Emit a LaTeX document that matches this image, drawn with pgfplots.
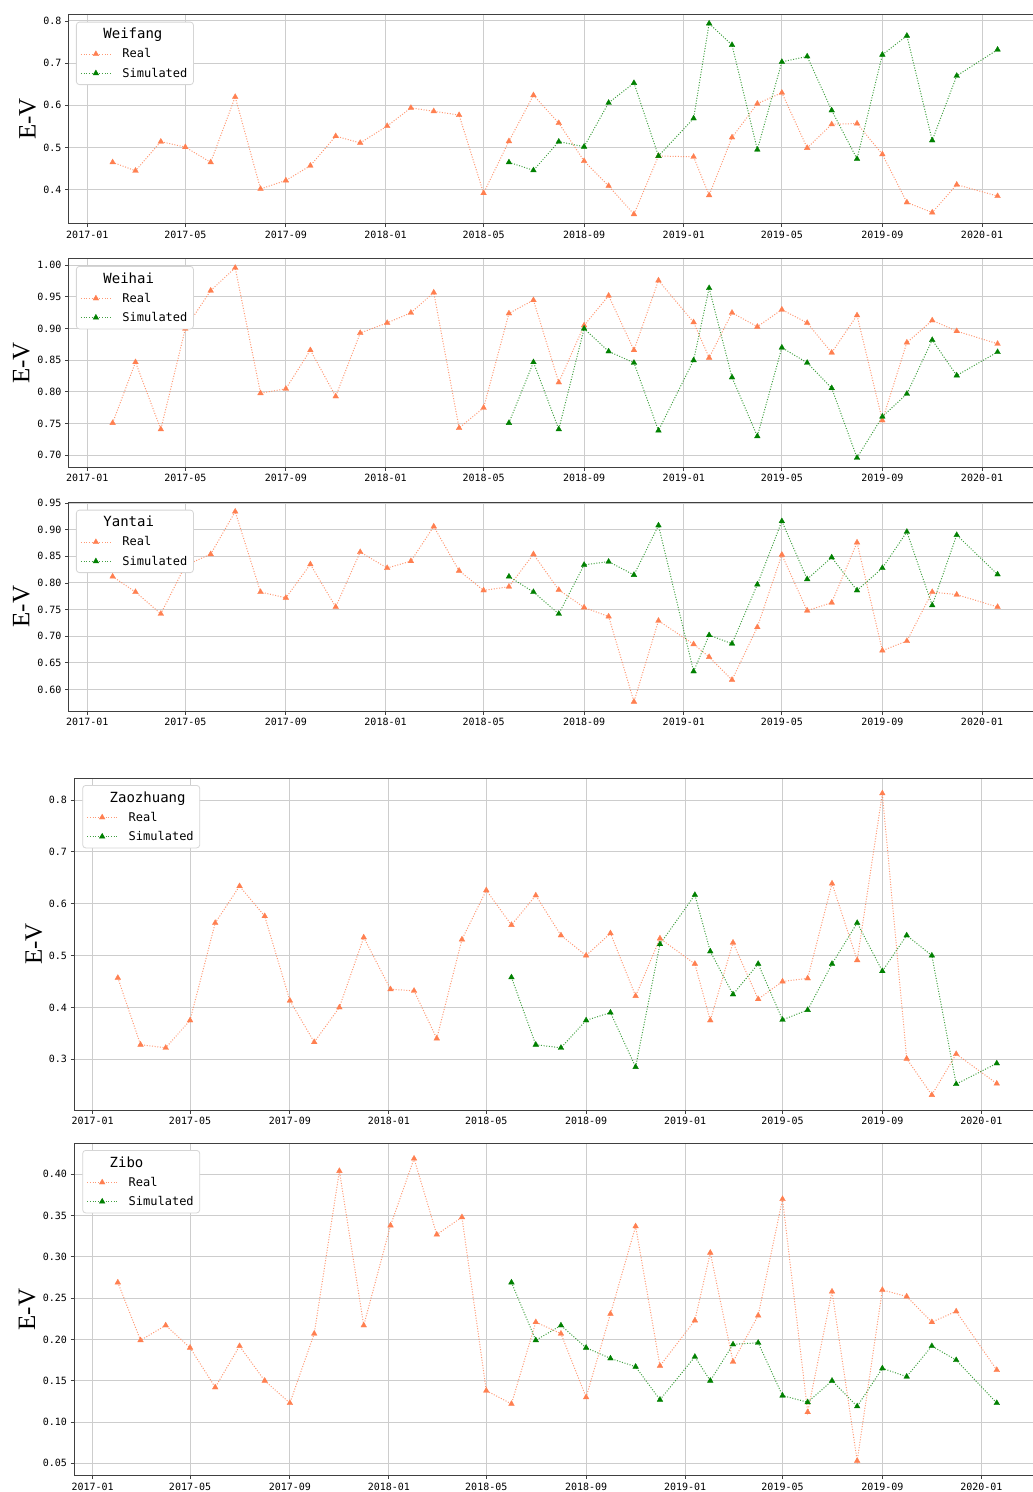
\documentclass[border=0pt]{standalone}
\usepackage{fontspec}
\usepackage{pgfplots}
\usepackage{pgfplotstable}
\pgfplotsset{compat=1.18}
\newfontfamily\monof{DejaVu Sans Mono}
\newfontfamily\seriff{Liberation Serif}
\definecolor{realc}{HTML}{FF7F50}
\definecolor{simc}{HTML}{008000}
\definecolor{gridc}{HTML}{CDCDCD}
\definecolor{spinec}{HTML}{404040}
\definecolor{legc}{HTML}{D5D5D5}

\pgfplotstableread{
d r s
31 0.465 nan
59 0.445 nan
90 0.514 nan
120 0.501 nan
151 0.465 nan
181 0.620 nan
212 0.402 nan
243 0.422 nan
273 0.457 nan
304 0.527 nan
334 0.511 nan
367 0.551 nan
396 0.594 nan
424 0.586 nan
455 0.577 nan
485 0.392 nan
516 0.515 0.465
546 0.624 0.446
577 0.558 0.514
608 0.468 0.502
638 0.409 0.606
669 0.342 0.653
699 0.480 0.480
742 0.478 0.569
761 0.387 0.794
789 0.524 0.743
820 0.604 0.495
850 0.630 0.703
881 0.499 0.716
911 0.555 0.588
942 0.557 0.473
973 0.484 0.720
1003 0.370 0.765
1034 0.346 0.517
1064 0.412 0.670
1114 0.385 0.732
}\wf

\pgfplotstableread{
d r s
31 0.751 nan
59 0.847 nan
90 0.741 nan
120 0.900 nan
151 0.960 nan
181 0.996 nan
212 0.798 nan
243 0.805 nan
273 0.866 nan
304 0.793 nan
334 0.893 nan
367 0.909 nan
396 0.925 nan
424 0.957 nan
455 0.743 nan
485 0.775 nan
516 0.924 0.751
546 0.945 0.847
577 0.815 0.741
608 0.905 0.900
638 0.952 0.864
669 0.866 0.846
699 0.976 0.739
742 0.910 0.850
761 0.854 0.964
789 0.925 0.823
820 0.903 0.730
850 0.930 0.870
881 0.909 0.846
911 0.862 0.806
942 0.921 0.696
973 0.755 0.761
1003 0.878 0.797
1034 0.913 0.882
1064 0.896 0.826
1114 0.876 0.863
}\wh

\pgfplotstableread{
d r s
31 0.812 nan
59 0.783 nan
90 0.742 nan
120 0.833 nan
151 0.854 nan
181 0.934 nan
212 0.783 nan
243 0.772 nan
273 0.835 nan
304 0.755 nan
334 0.858 nan
367 0.828 nan
396 0.841 nan
424 0.906 nan
455 0.823 nan
485 0.786 nan
516 0.793 0.812
546 0.854 0.783
577 0.787 0.742
608 0.754 0.834
638 0.737 0.840
669 0.577 0.815
699 0.729 0.908
742 0.685 0.634
761 0.661 0.702
789 0.618 0.686
820 0.717 0.797
850 0.853 0.916
881 0.748 0.807
911 0.763 0.848
942 0.876 0.786
973 0.673 0.828
1003 0.691 0.896
1034 0.783 0.758
1064 0.778 0.890
1114 0.755 0.816
}\yt

\pgfplotstableread{
d r s
31 0.457 nan
59 0.328 nan
90 0.322 nan
120 0.375 nan
151 0.563 nan
181 0.634 nan
212 0.576 nan
243 0.413 nan
273 0.333 nan
304 0.400 nan
334 0.535 nan
367 0.435 nan
396 0.432 nan
424 0.340 nan
455 0.531 nan
485 0.626 nan
516 0.559 0.458
546 0.616 0.328
577 0.539 0.322
608 0.500 0.375
638 0.543 0.390
669 0.422 0.285
699 0.533 0.522
742 0.484 0.617
761 0.375 0.508
789 0.525 0.425
820 0.416 0.484
850 0.450 0.376
881 0.456 0.395
911 0.639 0.484
942 0.491 0.563
973 0.813 0.470
1003 0.301 0.539
1034 0.231 0.500
1064 0.310 0.252
1114 0.253 0.292
}\zz

\pgfplotstableread{
d r s
31 0.269 nan
59 0.199 nan
90 0.217 nan
120 0.190 nan
151 0.142 nan
181 0.192 nan
212 0.150 nan
243 0.123 nan
273 0.207 nan
304 0.404 nan
334 0.217 nan
367 0.338 nan
396 0.419 nan
424 0.327 nan
455 0.348 nan
485 0.138 nan
516 0.122 0.269
546 0.221 0.199
577 0.207 0.217
608 0.130 0.190
638 0.231 0.177
669 0.337 0.167
699 0.168 0.127
742 0.223 0.179
761 0.305 0.150
789 0.173 0.194
820 0.229 0.196
850 0.370 0.132
881 0.112 0.124
911 0.258 0.150
942 0.053 0.119
973 0.260 0.165
1003 0.252 0.155
1034 0.221 0.192
1064 0.234 0.175
1114 0.163 0.123
}\zb

\pgfplotsset{
  legimg/.style={legend image code/.code={\draw[mark repeat=2,mark phase=2,##1] plot coordinates {(0pt,0pt) (15pt,0pt) (30pt,0pt)};}},
  panel/.style={
    scale only axis,
    anchor=north west,
    xmin=-23, xmax=1168,
    xtick={0,120,243,365,485,608,730,850,973,1095},
    xticklabels={2017-01,2017-05,2017-09,2018-01,2018-05,2018-09,2019-01,2019-05,2019-09,2020-01},
    grid=major,
    major grid style={gridc, line width=1pt},
    axis line style={spinec, line width=1pt},
    tick style={spinec, line width=0.9pt},
    major tick length=3.5pt,
    tick align=outside,
    tick pos=left,
    ticklabel style={font=\monof\fontsize{10}{12}\selectfont},
    /pgf/number format/assume math mode=true,
    yticklabel style={/pgf/number format/fixed, /pgf/number format/fixed zerofill, /pgf/number format/precision=#1},
    ylabel={E-V},
    ylabel style={font=\seriff\fontsize{25}{30}\selectfont, anchor=center},
    legimg,
    legend style={at={(0,1)}, anchor=north west, xshift=7.5pt, yshift=-7.7pt,
      draw=legc, rounded corners=3pt, fill=white, line width=0.8pt,
      font=\monof\fontsize{12}{14}\selectfont,
      inner xsep=4pt, inner ysep=4pt, row sep=4.5pt, column sep=9pt,
      cells={anchor=west}},
  },
  real/.style={color=realc, draw opacity=0.8, line width=1pt, dash pattern=on 1pt off 1.65pt,
    mark=triangle*, mark size=3.3pt, mark options={solid, fill=realc, draw=realc, draw opacity=1, line width=0.3pt}},
  sim/.style={color=simc, draw opacity=0.75, line width=1pt, dash pattern=on 1pt off 1.65pt,
    mark=triangle*, mark size=3.3pt, mark options={solid, fill=simc, draw=simc, draw opacity=1, line width=0.3pt}},
}

\newcommand{\legtitle}[1]{\addlegendimage{empty legend}\addlegendentry{\hspace*{-19pt}\fontsize{14}{17}\selectfont #1}}

\begin{document}
\begin{tikzpicture}
% Weifang
\begin{axis}[panel=1, at={(68.5pt,-14pt)}, width=973.2pt, height=209.7pt,
  ymin=0.3195, ymax=0.8165, ytick={0.4,0.5,0.6,0.7,0.8},
  ylabel style={at={(axis description cs:-0.0421,0.5)}}]
\legtitle{Weifang}
\addplot[real] table[x=d,y=r]{\wf}; \addlegendentry{Real}
\addplot[sim] table[x=d,y=s]{\wf}; \addlegendentry{Simulated}
\end{axis}
% Weihai
\begin{axis}[panel=2, at={(68.5pt,-258.3pt)}, width=973.2pt, height=209pt,
  ymin=0.681, ymax=1.011, ytick={0.70,0.75,0.80,0.85,0.90,0.95,1.00},
  ylabel style={at={(axis description cs:-0.0483,0.5)}}]
\legtitle{Weihai}
\addplot[real] table[x=d,y=r]{\wh}; \addlegendentry{Real}
\addplot[sim] table[x=d,y=s]{\wh}; \addlegendentry{Simulated}
\end{axis}
% Yantai
\begin{axis}[panel=2, at={(68.5pt,-502pt)}, width=973.2pt, height=209.3pt,
  ymin=0.559, ymax=0.952, ytick={0.60,0.65,0.70,0.75,0.80,0.85,0.90,0.95},
  ylabel style={at={(axis description cs:-0.0483,0.5)}}]
\legtitle{Yantai}
\addplot[real] table[x=d,y=r]{\yt}; \addlegendentry{Real}
\addplot[sim] table[x=d,y=s]{\yt}; \addlegendentry{Simulated}
\end{axis}
% Zaozhuang
\begin{axis}[panel=1, at={(74pt,-778.3pt)}, width=966.6pt, height=331.7pt,
  ymin=0.202, ymax=0.842, ytick={0.3,0.4,0.5,0.6,0.7,0.8},
  ylabel style={at={(axis description cs:-0.0414,0.5)}},
  legend style={xshift=0.8pt, yshift=1pt}]
\legtitle{Zaozhuang}
\addplot[real] table[x=d,y=r]{\zz}; \addlegendentry{Real}
\addplot[sim] table[x=d,y=s]{\zz}; \addlegendentry{Simulated}
\end{axis}
% Zibo
\begin{axis}[panel=2, at={(74pt,-1143.3pt)}, width=966.6pt, height=332.4pt,
  ymin=0.035, ymax=0.4375, ytick={0.05,0.10,0.15,0.20,0.25,0.30,0.35,0.40},
  ylabel style={at={(axis description cs:-0.0486,0.5)}},
  legend style={xshift=0.8pt, yshift=1pt}]
\legtitle{Zibo}
\addplot[real] table[x=d,y=r]{\zb}; \addlegendentry{Real}
\addplot[sim] table[x=d,y=s]{\zb}; \addlegendentry{Simulated}
\end{axis}
\pgfresetboundingbox
\path[use as bounding box] (0pt,0pt) rectangle (1033pt,-1492pt);
\end{tikzpicture}
\end{document}
